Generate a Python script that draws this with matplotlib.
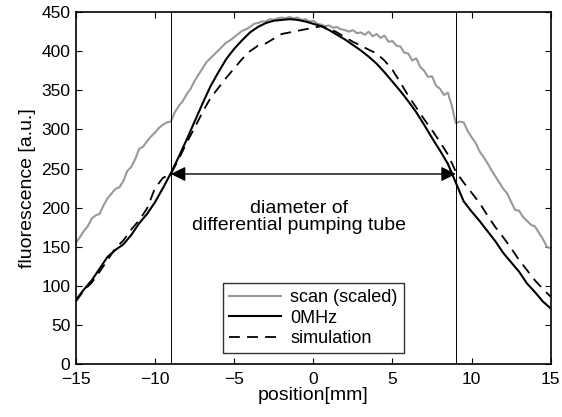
import numpy as np
import matplotlib
matplotlib.use("Agg")
import matplotlib.pyplot as plt

plt.rcParams["font.family"] = ["Liberation Sans", "DejaVu Sans"]
plt.rcParams["font.size"] = 12.5

# position grids [mm]
pos_fine = np.arange(-15, 15.01, 0.25)
pos = np.arange(-15, 15.01, 0.5)

# scan (scaled), every 0.25 mm
scan = [155, 162, 170, 176, 186, 190, 192, 203, 212, 218, 224, 226, 234, 247, 252, 262,
        275, 278, 285, 291, 296, 302, 306, 309, 310, 322, 330, 336, 345, 352, 362, 370,
        378, 386, 391, 396, 401, 406, 411, 414, 418, 422, 426, 428, 431, 435, 436, 438,
        438, 441, 440, 442, 443, 442, 444, 442, 443, 440, 441, 438, 439, 435, 434, 432,
        433, 430, 431, 428, 427, 425, 427, 423, 424, 421, 425, 419, 422, 417, 420, 412,
        413, 407, 406, 398, 397, 388, 391, 380, 375, 367, 368, 356, 352, 344, 347, 330,
        308, 310, 309, 298, 290, 283, 272, 265, 257, 248, 240, 232, 224, 218, 207, 197,
        196, 188, 183, 178, 176, 168, 160, 150, 148]

# 0MHz, every 0.5 mm
mhz0 = [82, 95, 107, 122, 137, 146, 153, 165, 180, 192, 207, 225, 244, 265, 287, 310,
        333, 355, 373, 390, 403, 414, 424, 431, 436, 439, 440, 441, 440, 438, 435, 432,
        427, 421, 415, 408, 401, 393, 384, 373, 361, 349, 336, 322, 306, 289, 273, 256,
        232, 208, 195, 183, 170, 157, 142, 130, 118, 103, 92, 80, 71]

# simulation, every 0.5 mm
sim = [80, 94, 104, 118, 133, 148, 158, 172, 184, 199, 225, 238, 243, 262, 283, 302,
       322, 340, 353, 366, 378, 390, 400, 407, 410, 416, 422, 424, 426, 428, 430, 432,
       429, 424, 418, 412, 407, 402, 397, 388, 376, 360, 343, 328, 313, 299, 284, 268,
       246, 232, 219, 206, 190, 175, 162, 148, 133, 120, 107, 96, 86]

tube_edges = [-9, 9]

fig = plt.figure(figsize=(5.62, 4.17), dpi=100)
ax = fig.add_axes([0.135, 0.127, 0.845, 0.844])

ax.plot(pos_fine, scan, color="#999999", lw=1.5, label="scan (scaled)")
ax.plot(pos, mhz0, color="black", lw=1.5, label="0MHz")
ax.plot(pos, sim, color="black", lw=1.3, ls=(0, (6, 4)), label="simulation")

for e in tube_edges:
    ax.axvline(e, color="black", lw=0.7)

ax.annotate("", xy=(tube_edges[0], 243), xytext=(tube_edges[1], 243),
            arrowprops=dict(arrowstyle="<|-|>", color="black", lw=1, mutation_scale=22,
                            shrinkA=0, shrinkB=0))
ax.text(-0.9, 188, "diameter of\ndifferential pumping tube", ha="center", va="center",
        fontsize=14, linespacing=1.05)

ax.set_xlim(-15, 15)
ax.set_ylim(0, 450)
ax.set_xticks(range(-15, 16, 5))
ax.set_yticks(range(0, 451, 50))
ax.set_xticklabels(["\u221215", "\u221210", "\u22125", "0", "5", "10", "15"])
ax.tick_params(direction="in", top=True, right=True, length=4, pad=4)
ax.tick_params(axis="x", pad=6)
for s in ax.spines.values():
    s.set_linewidth(1.2)
ax.set_xlabel("position[mm]", fontsize=14, labelpad=0)
ax.set_ylabel("fluorescence [a.u.]", fontsize=14, labelpad=4)

leg = ax.legend(loc="lower center", bbox_to_anchor=(0.5, 0.03), fancybox=False,
                edgecolor="black", handlelength=2.9, handletextpad=0.5,
                borderaxespad=0, labelspacing=0.2, borderpad=0.35, fontsize=13)
leg.get_frame().set_linewidth(1)

fig.savefig("out.png", dpi=100)
